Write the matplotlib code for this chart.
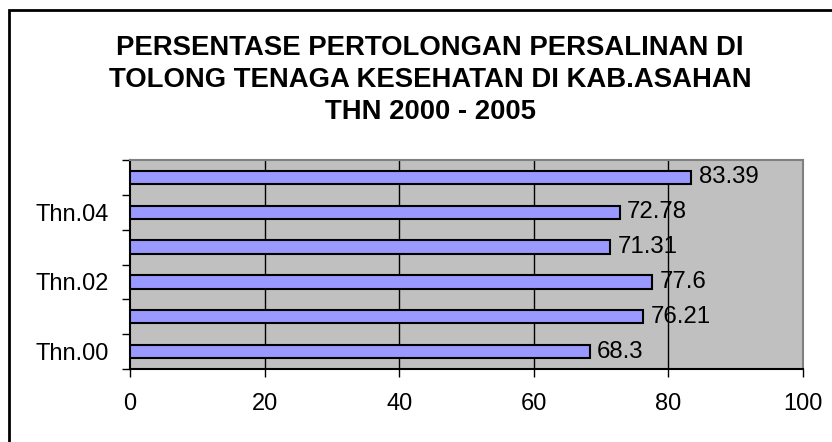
import matplotlib.pyplot as plt
from matplotlib.patches import Rectangle

categories = ["Thn.00", "Thn.01", "Thn.02", "Thn.03", "Thn.04", "Thn.05"]
values = [68.3, 76.21, 77.6, 71.31, 72.78, 83.39]
value_labels = ["68.3", "76.21", "77.6", "71.31", "72.78", "83.39"]
shown_ticks = [0, 2, 4]
x_ticks = [0, 20, 40, 60, 80, 100]

title = ("PERSENTASE PERTOLONGAN PERSALINAN DI\n"
         "TOLONG TENAGA KESEHATAN DI KAB.ASAHAN\n"
         "THN 2000 - 2005")

plt.rcParams['font.family'] = ['Liberation Sans', 'DejaVu Sans']

fig = plt.figure(figsize=(8.32, 4.42), dpi=100)
fig.patch.set_facecolor('white')

# outer chart border (only top and left visible in the crop)
fig.add_artist(Rectangle((9 / 832, -0.1), 1.2, (442 - 10) / 442 + 0.1,
                         transform=fig.transFigure, fill=False,
                         edgecolor='black', linewidth=2))

ax = fig.add_axes([130 / 832, (442 - 369) / 442, 673 / 832, 209 / 442])
ax.set_facecolor('#C0C0C0')

ypos = list(range(len(categories)))
ax.barh(ypos, values, height=0.38, color='#9999FF', edgecolor='black',
        linewidth=1.5, zorder=3)
for y, v, lab in zip(ypos, values, value_labels):
    ax.text(v + 1.1, y, lab, va='center', ha='left', fontsize=17.3, zorder=4)

ax.set_xlim(0, 100)
ax.set_ylim(-0.5, 5.5)
ax.set_xticks(x_ticks)
ax.set_xticklabels([str(t) for t in x_ticks])
ax.set_yticks(shown_ticks)
ax.set_yticklabels([categories[i] for i in shown_ticks])
ax.set_yticks([i - 0.5 for i in range(len(categories) + 1)], minor=True)

ax.tick_params(axis='x', which='major', length=6, width=1, direction='out',
               labelsize=17, pad=11)
ax.tick_params(axis='y', which='major', length=0, labelsize=17, pad=15)
ax.tick_params(axis='y', which='minor', length=6, width=1, direction='out')

for xv in x_ticks[1:-1]:
    ax.axvline(xv, color='black', linewidth=1, zorder=2)

ax.spines['left'].set_color('black')
ax.spines['bottom'].set_color('black')
ax.spines['top'].set_color('#808080')
ax.spines['right'].set_color('#808080')
for s in ax.spines.values():
    s.set_linewidth(1.5)

fig.text(430 / 832, 1 - 80 / 442, title, ha='center', va='center',
         fontsize=19.8, fontweight='bold', linespacing=1.3)

fig.savefig('out.png', dpi=100)
